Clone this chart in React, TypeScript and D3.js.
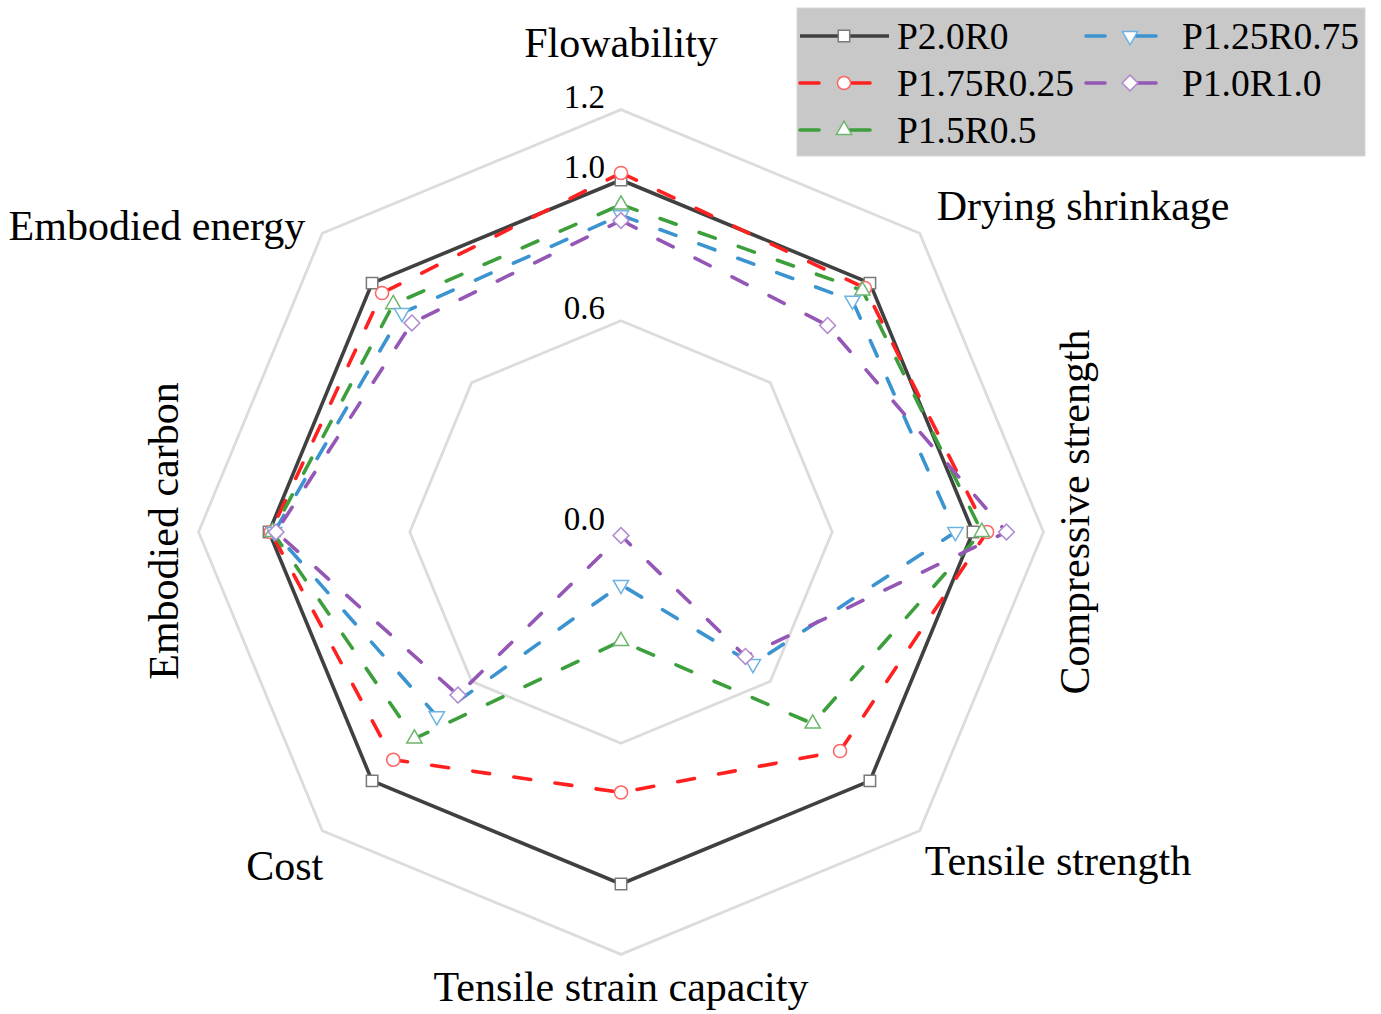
import React from "react";
import * as d3 from "d3";

// ---------- data ----------
const axes = [
  "Flowability",
  "Drying shrinkage",
  "Compressive strength",
  "Tensile strength",
  "Tensile strain capacity",
  "Cost",
  "Embodied carbon",
  "Embodied energy",
];
const seriesNames = ["P2.0R0", "P1.75R0.25", "P1.5R0.5", "P1.25R0.75", "P1.0R1.0"];
const p20r0 = [1.0, 1.0, 1.0, 1.0, 1.0, 1.0, 1.0, 1.0];
const p175r025 = [1.02, 0.98, 1.04, 0.88, 0.74, 0.915, 0.995, 0.96];
const p15r05 = [0.93, 0.97, 1.025, 0.77, 0.31, 0.83, 0.99, 0.915];
const p125r075 = [0.9, 0.93, 0.95, 0.53, 0.15, 0.74, 0.985, 0.88];
const p10r10 = [0.885, 0.83, 1.095, 0.5, 0.01, 0.655, 0.98, 0.84];
const seriesValues = [p20r0, p175r025, p15r05, p125r075, p10r10];
const tickValues = [0.0, 0.6, 1.0, 1.2];
const gridValues = [0.6, 1.2];

// ---------- styles ----------
const lineColors = ["#404040", "#ff2020", "#3c9f3c", "#3b93cf", "#9457b5"];
const markerStroke = ["#7a7a7a", "#ff6464", "#6cb56c", "#6cb2e2", "#b08ad0"];
const markerKinds = ["square", "circle", "triangle", "triangleDown", "diamond"];
const FONT = "'Liberation Serif', 'Times New Roman', serif";

const W = 1381;
const H = 1014;
const cx = 621;
const cy = 532;

const rScale = d3.scaleLinear().domain([0, 1.2]).range([0, 422.4]);
const aScale = d3.scaleLinear().domain([0, axes.length]).range([0, 2 * Math.PI]);

function symbolPath(kind: string) {
  const gen = d3.symbol();
  if (kind === "square") return gen.type(d3.symbolSquare).size(130)();
  if (kind === "circle") return gen.type(d3.symbolCircle).size(135)();
  if (kind === "triangle" || kind === "triangleDown") return gen.type(d3.symbolTriangle).size(100)();
  return gen.type(d3.symbolSquare).size(125)();
}
function symbolRotation(kind: string) {
  if (kind === "triangleDown") return 180;
  if (kind === "diamond") return 45;
  return 0;
}

function polar(i: number, r: number): [number, number] {
  const a = aScale(i);
  return [cx + r * Math.sin(a), cy - r * Math.cos(a)];
}

const labelRadius = 455;
const labelNudges: [number, number][] = [
  [0, -35], [-6, -5], [-2, -20], [-18, 7], [0, -1], [24, 12], [-3, -1], [6, 15],
];
const labelAnchors = ["middle", "start", "middle", "start", "middle", "end", "middle", "end"];
const labelRotate = [0, 0, -90, 0, 0, 0, -90, 0];

const DASH = "17 24.5";

export default function App() {
  const radial = d3
    .lineRadial<number>()
    .angle((_d, i) => aScale(i))
    .radius((d) => rScale(d))
    .curve(d3.curveLinearClosed);

  const gridLine = (v: number) => radial(axes.map(() => v)) as string;

  const legendItems = seriesNames.map((name, k) => {
    const col = k < 3 ? 0 : 1;
    const row = k < 3 ? k : k - 3;
    return { name, k, x: col === 0 ? 800 : 1086, y: 36 + row * 47, tx: col === 0 ? 897 : 1182 };
  });

  return (
    <svg
      width={W}
      height={H}
      style={{ position: "absolute", left: 0, top: 0, background: "#fff" }}
      fontFamily={FONT}
    >
      <rect x={0} y={0} width={W} height={H} fill="#fff" />
      <g transform={`translate(${cx},${cy})`}>
        {gridValues.map((v) => (
          <path key={v} d={gridLine(v)} fill="none" stroke="#dcdcdc" strokeWidth={2.8} />
        ))}
      </g>

      {tickValues.map((v) => (
        <text key={v} x={cx - 16} y={cy - rScale(v) - 2} textAnchor="end" fontSize={33} fill="#000">
          {v.toFixed(1)}
        </text>
      ))}

      {axes.map((name, i) => {
        const [bx, by] = polar(i, labelRadius);
        const x = bx + labelNudges[i][0];
        const y = by + labelNudges[i][1];
        return (
          <text
            key={name}
            transform={`translate(${x},${y}) rotate(${labelRotate[i]})`}
            textAnchor={labelAnchors[i]}
            dy="0.35em"
            fontSize={42}
            fill="#000"
          >
            {name}
          </text>
        );
      })}

      {seriesValues.map((vals, k) => (
        <g key={seriesNames[k]}>
          <path
            transform={`translate(${cx},${cy})`}
            d={radial(vals) as string}
            fill="none"
            stroke={lineColors[k]}
            strokeWidth={k === 0 ? 3.6 : 3.6}
            strokeDasharray={k === 0 ? undefined : DASH}
            strokeLinecap={k === 0 ? "butt" : "round"}
            strokeLinejoin="miter"
          />
          {vals.map((v, i) => {
            const [px, py] = polar(i, rScale(v));
            return (
              <path
                key={i}
                d={symbolPath(markerKinds[k]) as string}
                transform={`translate(${px},${py}) rotate(${symbolRotation(markerKinds[k])})`}
                fill="#fff"
                stroke={markerStroke[k]}
                strokeWidth={1.5}
              />
            );
          })}
        </g>
      ))}

      {/* legend */}
      <rect x={797} y={8} width={568} height={148} fill="#c8c8c8" stroke="#d8d8d8" strokeWidth={1} />
      {legendItems.map(({ name, k, x, y, tx }) => (
        <g key={name}>
          {k === 0 ? (
            <line x1={x} x2={x + 89} y1={y} y2={y} stroke={lineColors[k]} strokeWidth={3.6} />
          ) : (
            <g stroke={lineColors[k]} strokeWidth={3.6} strokeLinecap="round">
              <line x1={x} x2={x + 19} y1={y} y2={y} />
              <line x1={x + 50} x2={x + 70} y1={y} y2={y} />
            </g>
          )}
          <path
            d={symbolPath(markerKinds[k]) as string}
            transform={`translate(${x + 44},${y}) rotate(${symbolRotation(markerKinds[k])})`}
            fill="#fff"
            stroke={markerStroke[k]}
            strokeWidth={1.5}
          />
          <text x={tx} y={y} dy="0.35em" fontSize={37.5} fill="#000">
            {name}
          </text>
        </g>
      ))}
    </svg>
  );
}
